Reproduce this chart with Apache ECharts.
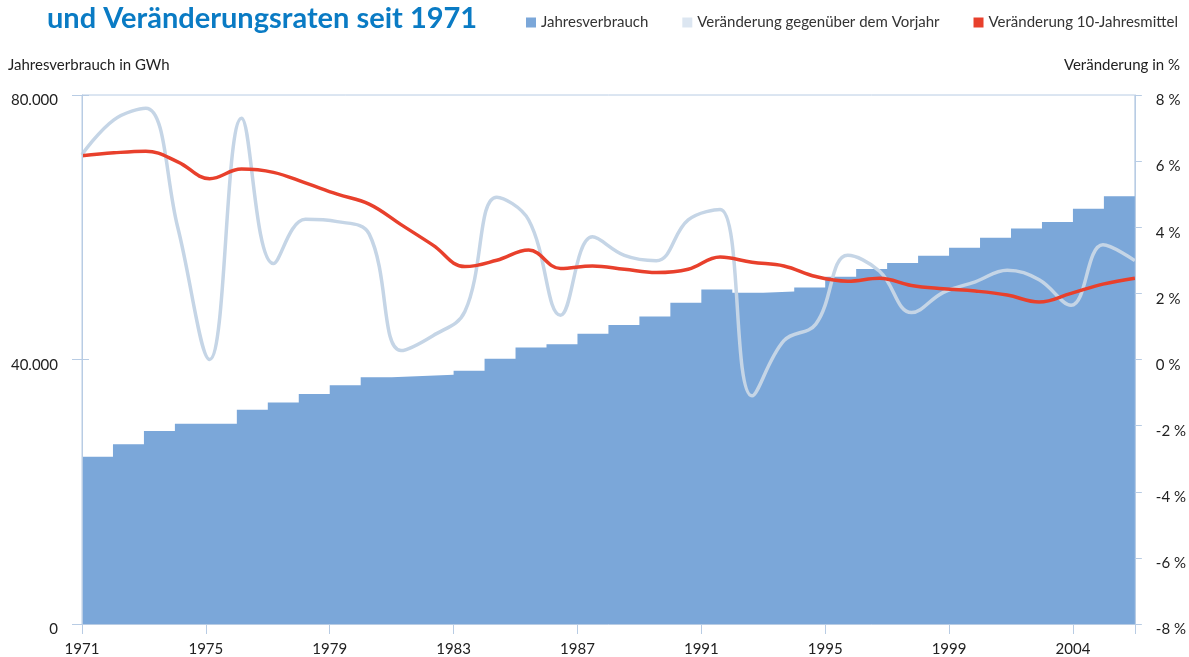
<!DOCTYPE html>
<html>
<head>
<meta charset="utf-8">
<title>Jahresverbrauch und Veränderungsraten seit 1971</title>
<script src="https://cdn.jsdelivr.net/npm/echarts@6/dist/echarts.min.js"></script>
<style>
  html, body { margin: 0; padding: 0; background: #fff; }
  #chart { width: 1189px; height: 657px; }
</style>
</head>
<body>
<div id="chart"></div>
<script>
// Jahre (Balken) und Jahresverbrauch in GWh
const years = [1971, 1972, 1973, 1974, 1975, 1976, 1977, 1978, 1979, 1980,
  1981, 1982, 1983, 1984, 1985, 1986, 1987, 1988, 1989, 1990,
  1991, 1992, 1993, 1994, 1995, 1996, 1997, 1998, 1999, 2000,
  2001, 2002, 2003, 2004]
const consumption = [25300, 27200, 29200, 30300, 30300, 32400, 33500, 34800, 36100, 37300,
  37500, 37700, 38300, 40100, 41800, 42300, 43900, 45200, 46500, 48600,
  50600, 50100, 50300, 50900, 52500, 53700, 54600, 55700, 56900, 58400,
  59800, 60800, 62800, 64700]
// Veränderung gegenüber dem Vorjahr in %
const changeYear = [6.2, 7.25, 7.6, 4.0, 0.0, 7.3, 2.9, 4.24, 4.17, 3.8,
  0.27, 0.72, 1.45, 4.91, 4.22, 1.34, 3.71, 3.15, 2.99, 4.22,
  4.54, -1.1, 0.57, 1.07, 3.15, 2.67, 1.42, 2.03, 2.35, 2.7,
  2.41, 1.64, 3.47, 2.99]
// Veränderung 10-Jahresmittel in %
const change10y = [6.16, 6.25, 6.3, 5.98, 5.47, 5.76, 5.66, 5.34, 5.0, 4.7,
  4.08, 3.46, 2.81, 3.0, 3.31, 2.75, 2.83, 2.73, 2.63, 2.73,
  3.1, 2.94, 2.83, 2.51, 2.37, 2.46, 2.24, 2.14, 2.07, 1.95,
  1.74, 2.0, 2.28, 2.46]
// Beschriftung der x-Achse (alle 4 Jahre ab 1971)
const xTickLabels = ['1971', '1975', '1979', '1983', '1987', '1991', '1995', '1999', '2004']
const yearEnd = 2005

const axisColor = '#b8cce4'
const textColor = '#222'

const stepData = years.map((y, i) => [y, consumption[i]])
stepData.push([yearEnd, consumption[consumption.length - 1]])

const chart = echarts.init(document.getElementById('chart'))
chart.setOption({
  animation: false,
  textStyle: { fontFamily: 'Lato, sans-serif' },
  title: [
    {
      text: 'und Veränderungsraten seit 1971',
      left: 47,
      top: 4,
      padding: 0,
      textStyle: { fontSize: 29, fontWeight: 'bold', color: '#0a7bc4', fontFamily: 'Lato' }
    },
    {
      text: 'Jahresverbrauch in GWh',
      left: 8,
      top: 58,
      padding: 0,
      textStyle: { fontSize: 15, fontWeight: 'normal', color: textColor }
    },
    {
      text: 'Veränderung in %',
      right: 9,
      top: 58,
      padding: 0,
      textStyle: { fontSize: 15, fontWeight: 'normal', color: textColor }
    }
  ],
  legend: {
    left: 521,
    top: 10,
    icon: 'rect',
    itemWidth: 10,
    itemHeight: 10,
    itemGap: 34,
    textStyle: { fontSize: 15, color: '#333' },
    data: ['Jahresverbrauch', 'Veränderung gegenüber dem Vorjahr', 'Veränderung 10-Jahresmittel']
  },
  grid: {
    left: 82,
    right: 50,
    top: 95,
    bottom: 32,
    show: true,
    borderColor: axisColor,
    borderWidth: 1
  },
  xAxis: [
    {
      type: 'value',
      min: 1971,
      max: yearEnd,
      interval: 4,
      z: 5,
      axisLine: { show: true, lineStyle: { color: axisColor } },
      axisTick: { show: true, length: 9, lineStyle: { color: axisColor } },
      axisLabel: {
        margin: 18,
        fontSize: 15,
        color: textColor,
        formatter: v => xTickLabels[(v - 1971) / 4] || ''
      },
      splitLine: { show: false }
    },
    {
      type: 'category',
      data: years.map(String),
      boundaryGap: false,
      show: false
    },
    {
      // nach innen zeigende Striche
      type: 'value',
      min: 1971,
      max: yearEnd,
      interval: 4,
      z: 5,
      axisLine: { show: false },
      axisTick: { show: true, inside: true, length: 10, lineStyle: { color: axisColor } },
      axisLabel: { show: false },
      splitLine: { show: false }
    }
  ],
  yAxis: [
    {
      type: 'value',
      position: 'left',
      min: 0,
      max: 80000,
      interval: 40000,
      z: 5,
      axisLine: { show: true, lineStyle: { color: axisColor } },
      axisTick: { show: true, length: 10, lineStyle: { color: axisColor } },
      axisLabel: {
        margin: 24,
        fontSize: 15,
        color: textColor,
        verticalAlign: 'top',
        lineHeight: 11,
        formatter: v => String(v).replace(/\B(?=(\d{3})+(?!\d))/g, '.')
      },
      splitLine: { show: false }
    },
    {
      type: 'value',
      position: 'right',
      min: -8,
      max: 8,
      interval: 2,
      z: 5,
      axisLine: { show: true, lineStyle: { color: axisColor } },
      axisTick: { show: true, length: 7, lineStyle: { color: axisColor } },
      axisLabel: {
        margin: 21,
        fontSize: 15,
        color: textColor,
        verticalAlign: 'top',
        lineHeight: 11,
        formatter: v => v + ' %'
      },
      splitLine: { show: false }
    },
    {
      type: 'value',
      position: 'left',
      min: 0,
      max: 80000,
      interval: 40000,
      z: 5,
      axisLine: { show: false },
      axisTick: { show: true, inside: true, length: 7, lineStyle: { color: axisColor } },
      axisLabel: { show: false },
      splitLine: { show: false }
    }
  ],
  series: [
    {
      name: 'Jahresverbrauch',
      type: 'line',
      step: 'end',
      xAxisIndex: 0,
      yAxisIndex: 0,
      data: stepData,
      symbol: 'none',
      itemStyle: { color: '#7ba7d9' },
      lineStyle: { width: 0 },
      areaStyle: { color: '#7ba7d9', opacity: 1 },
      z: 1
    },
    {
      name: 'Veränderung gegenüber dem Vorjahr',
      type: 'line',
      xAxisIndex: 1,
      yAxisIndex: 1,
      data: changeYear,
      smooth: 0.4,
      symbol: 'none',
      itemStyle: { color: '#dce6f1' },
      lineStyle: { color: '#c5d5e6', width: 3.5 },
      z: 2
    },
    {
      name: 'Veränderung 10-Jahresmittel',
      type: 'line',
      xAxisIndex: 1,
      yAxisIndex: 1,
      data: change10y,
      smooth: 0.4,
      symbol: 'none',
      itemStyle: { color: '#e8402c' },
      lineStyle: { color: '#e8402c', width: 3.5 },
      z: 3
    }
  ]
})
</script>
</body>
</html>
